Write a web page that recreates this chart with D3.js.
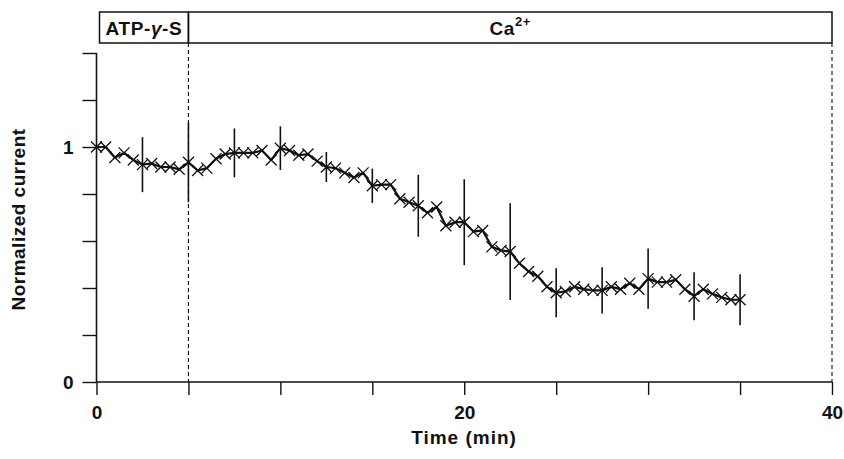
<!DOCTYPE html>
<html>
<head>
<meta charset="utf-8">
<script src="https://cdn.jsdelivr.net/npm/d3@7"></script>
<style>
  html, body { margin: 0; padding: 0; background: #fff; }
  svg { display: block; }
  text { font-family: "Liberation Sans", Arial, sans-serif; font-weight: bold; fill: #111; }
</style>
</head>
<body>
<svg id="chart" width="844" height="459"></svg>
<script>
// ---- data ----
const times = [0, 0.5, 1, 1.5, 2, 2.5, 3, 3.5, 4, 4.5, 5, 5.5, 6, 6.5, 7, 7.5, 8, 8.5, 9, 9.5,
  10, 10.5, 11, 11.5, 12, 12.5, 13, 13.5, 14, 14.5, 15, 15.5, 16, 16.5, 17, 17.5, 18, 18.5, 19, 19.5,
  20, 20.5, 21, 21.5, 22, 22.5, 23, 23.5, 24, 24.5, 25, 25.5, 26, 26.5, 27, 27.5, 28, 28.5, 29, 29.5,
  30, 30.5, 31, 31.5, 32, 32.5, 33, 33.5, 34, 34.5, 35];
const current = [1.00, 1.00, 0.955, 0.975, 0.945, 0.925, 0.93, 0.915, 0.915, 0.905,
  0.935, 0.900, 0.910, 0.950, 0.970, 0.975, 0.975, 0.975, 0.985, 0.945,
  0.995, 0.985, 0.965, 0.970, 0.940, 0.915, 0.910, 0.890, 0.870, 0.890,
  0.835, 0.840, 0.840, 0.780, 0.765, 0.750, 0.720, 0.745, 0.665, 0.680,
  0.680, 0.640, 0.645, 0.575, 0.560, 0.555, 0.505, 0.470, 0.450, 0.405,
  0.380, 0.385, 0.405, 0.395, 0.390, 0.390, 0.405, 0.395, 0.420, 0.395,
  0.440, 0.425, 0.425, 0.435, 0.395, 0.365, 0.395, 0.375, 0.360, 0.350, 0.350];
const errTimes = [2.5, 5, 7.5, 10, 12.5, 15, 17.5, 20, 22.5, 25, 27.5, 30, 32.5, 35];
const errHalf  = [0.117, 0.17, 0.104, 0.093, 0.064, 0.073, 0.132, 0.183, 0.206, 0.104, 0.098, 0.128, 0.102, 0.108];
const xTicks = [0, 5, 10, 15, 20, 25, 30, 35, 40];
const xTickLabels = ["0", "", "", "", "20", "", "", "", "40"];
const yTicks = [0, 0.2, 0.4, 0.6, 0.8, 1.0, 1.2, 1.4];
const yTickLabels = ["0", "", "", "", "", "1", "", ""];
const periods = [
  { parts: ["ATP-", "\u03B3", "-S"], start: 0, end: 5 },
  { parts: ["Ca"], sup: "2+", start: 5, end: 40 }
];
const dashedTimes = [5, 40];

// ---- layout ----
const svg = d3.select("#chart");
const x = d3.scaleLinear().domain([0, 40]).range([96.5, 832]);
const y = d3.scaleLinear().domain([0, 1.4]).range([382, 53]);
const ink = "#111";
const fs = "19px";

// x axis
const gx = svg.append("g").attr("transform", `translate(0,${y(0)})`)
  .call(d3.axisBottom(x).tickValues(xTicks).tickSize(13).tickPadding(11)
    .tickFormat((d, i) => xTickLabels[i]));
// y axis
const gy = svg.append("g").attr("transform", `translate(${x(0)},0)`)
  .call(d3.axisLeft(y).tickValues(yTicks).tickSize(14).tickPadding(9)
    .tickFormat((d, i) => yTickLabels[i]));
[gx, gy].forEach(g => {
  g.select(".domain").attr("stroke", ink).attr("stroke-width", 1.6);
  g.selectAll(".tick line").attr("stroke", ink).attr("stroke-width", 1.4);
  g.selectAll(".tick text").style("font-size", fs).style("font-weight", "bold")
    .attr("fill", ink).style("font-family", "'Liberation Sans', Arial, sans-serif");
});
gx.select(".domain").attr("d", `M${x(0)},0H${x(40)}`);
gy.select(".domain").attr("d", `M0,${y(1.4)}V${y(0)}`);

// axis titles
svg.append("text").attr("x", 464).attr("y", 444).attr("text-anchor", "middle")
  .style("font-size", fs).style("letter-spacing", "1px").text("Time (min)");
svg.append("text").attr("transform", `translate(25,${(y(0) + y(1.4)) / 2 + 2}) rotate(-90)`)
  .attr("text-anchor", "middle").style("font-size", fs).style("letter-spacing", "0.5px")
  .text("Normalized current");

// period bar
const barTop = 12, barBottom = 43;
const bar = svg.append("g");
periods.forEach((p, i) => {
  const x0 = i === 0 ? x(p.start) + 3 : x(p.start);
  bar.append("rect").attr("x", x0).attr("y", barTop)
    .attr("width", x(p.end) - x0).attr("height", barBottom - barTop)
    .attr("fill", "none").attr("stroke", ink).attr("stroke-width", 1.5);
  const t = bar.append("text").attr("x", (x0 + x(p.end)) / 2).attr("y", 35)
    .attr("text-anchor", "middle").style("font-size", fs).style("letter-spacing", "0.6px");
  p.parts.forEach(part => {
    const ts = t.append("tspan").text(part);
    if (part === "\u03B3") ts.style("font-style", "italic");
  });
  if (p.sup) t.append("tspan").attr("dy", -9).style("font-size", "13px").text(p.sup);
});

// dashed lines
dashedTimes.forEach(t => {
  svg.append("line").attr("x1", x(t)).attr("x2", x(t)).attr("y1", barBottom).attr("y2", y(0))
    .attr("stroke", ink).attr("stroke-width", 1.1).attr("stroke-dasharray", "4,3");
});

// error bars
const valAt = t => current[times.indexOf(t)];
svg.append("g").selectAll("line").data(errTimes).join("line")
  .attr("x1", d => x(d)).attr("x2", d => x(d))
  .attr("y1", (d, i) => y(valAt(d) + errHalf[i]))
  .attr("y2", (d, i) => y(valAt(d) - errHalf[i]))
  .attr("stroke", ink).attr("stroke-width", 1.6);

// line
const pts = times.map((t, i) => [t, current[i]]);
svg.append("path").datum(pts)
  .attr("d", d3.line().x(d => x(d[0])).y(d => y(d[1])))
  .attr("fill", "none").attr("stroke", ink).attr("stroke-width", 2.2).attr("stroke-linejoin", "round");

// X markers
const s = 5.5;
svg.append("g").selectAll("path").data(pts).join("path")
  .attr("transform", d => `translate(${x(d[0])},${y(d[1])})`)
  .attr("d", `M${-s},${-s}L${s},${s}M${-s},${s}L${s},${-s}`)
  .attr("stroke", ink).attr("stroke-width", 1.3).attr("fill", "none");
</script>
</body>
</html>
